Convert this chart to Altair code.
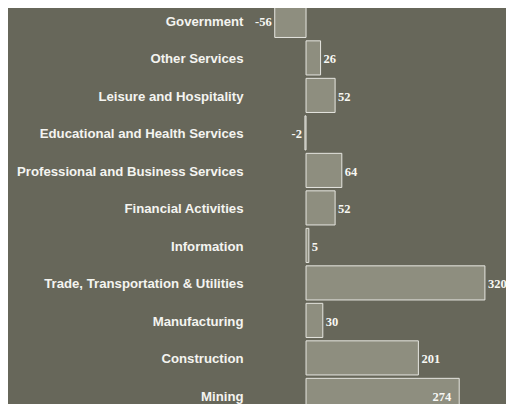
import altair as alt
import pandas as pd

categories = ["Government", "Other Services", "Leisure and Hospitality",
              "Educational and Health Services", "Professional and Business Services",
              "Financial Activities", "Information", "Trade, Transportation & Utilities",
              "Manufacturing", "Construction", "Mining"]
values = [-56, 26, 52, -2, 64, 52, 5, 320, 30, 201, 274]

df = pd.DataFrame({"cat": categories, "v": values})

BG = "#67675a"
BAR = "#8e8e7f"

y = alt.Y("cat:N", sort=categories,
          scale=alt.Scale(range=[-6.35, 406.15], paddingInner=0.09, paddingOuter=0.045),
          axis=alt.Axis(title=None, ticks=False, domain=False, labelPadding=29.5,
                        labelOffset=1.5,
                        labelFont="Liberation Sans", labelFontWeight="bold",
                        labelFontSize=13.2, labelColor="#f4f4f0", labelLimit=400))
x = alt.X("v:Q", scale=alt.Scale(domain=[-60, 340], nice=False, zero=True), axis=None)

base = alt.Chart(df).transform_calculate(lbl="'' + datum.v")

bars = base.mark_bar(color=BAR, stroke="#e6e6e0", strokeWidth=1).encode(
    x=x, x2=alt.datum(0), y=y)

txt_kw = dict(font="Liberation Serif", fontWeight="bold", fontSize=12.5, color="#f8f8f4",
              baseline="middle", dy=1.5)

pos = base.transform_filter("datum.v >= 0 && datum.cat != 'Mining'").mark_text(
    align="left", dx=3, **txt_kw).encode(x=x, y=y, text="lbl:N")
neg = base.transform_filter("datum.v < 0").mark_text(
    align="right", dx=-3, **txt_kw).encode(x=x, y=y, text="lbl:N")
inside = base.transform_filter("datum.cat == 'Mining'").mark_text(
    align="right", dx=-8, **txt_kw).encode(x=x, y=y, text="lbl:N")

chart = alt.layer(bars, pos, neg, inside).properties(
    width=223.6, height=396, background=BG,
    autosize=alt.AutoSizeParams(type="none"),
    padding={"left": 264.5, "top": 0, "right": 9.9, "bottom": 0}
).configure_view(strokeWidth=0)

chart.save("out.html", embed_options={"renderer": "svg", "actions": False})
